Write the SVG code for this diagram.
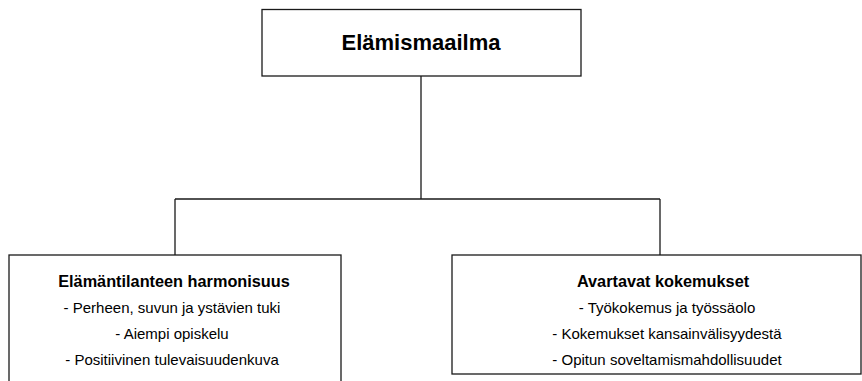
<svg xmlns="http://www.w3.org/2000/svg" width="862" height="381" viewBox="0 0 862 381">
  <style>
    .box { fill: #ffffff; stroke: #1a1a1a; stroke-width: 1.3; }
    .wire { fill: none; stroke: #1a1a1a; stroke-width: 1.3; }
    text { font-family: "Liberation Sans", "Open Sans", Arial, sans-serif; fill: #000000; text-anchor: middle; }
    .main { font-size: 22px; font-weight: bold; }
    .head { font-size: 16.3px; font-weight: bold; }
    .item { font-size: 15px; }
  </style>
  <rect width="862" height="381" fill="#ffffff"/>
  <g id="connectors">
    <path class="wire" d="M421 76 V199 M175 199 H660 M175 199 V255 M660 199 V255"/>
  </g>
  <g id="elamismaailma">
    <rect class="box" x="262" y="9.5" width="319" height="66.5"/>
    <text class="main" x="421" y="50">Elämismaailma</text>
  </g>
  <g id="elamantilanteen-harmonisuus">
    <rect class="box" x="9" y="255" width="332" height="140"/>
    <text class="head" x="174" y="287">Elämäntilanteen harmonisuus</text>
    <text class="item" x="172" y="313">- Perheen, suvun ja ystävien tuki</text>
    <text class="item" x="172" y="339">- Aiempi opiskelu</text>
    <text class="item" x="172" y="365">- Positiivinen tulevaisuudenkuva</text>
  </g>
  <g id="avartavat-kokemukset">
    <rect class="box" x="452" y="255" width="409" height="119"/>
    <text class="head" x="663" y="287">Avartavat kokemukset</text>
    <text class="item" x="667" y="313">- Työkokemus ja työssäolo</text>
    <text class="item" x="667" y="339">- Kokemukset kansainvälisyydestä</text>
    <text class="item" x="667" y="365">- Opitun soveltamismahdollisuudet</text>
  </g>
</svg>
